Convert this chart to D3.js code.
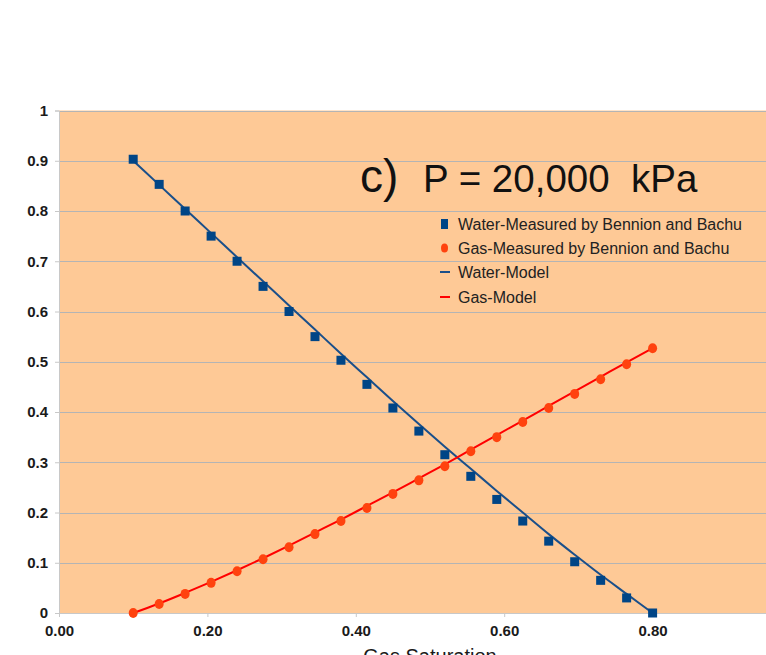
<!DOCTYPE html>
<html>
<head>
<meta charset="utf-8">
<script src="https://cdn.jsdelivr.net/npm/d3@7/dist/d3.min.js"></script>
<style>
  html, body { margin: 0; padding: 0; background: #fff; overflow: hidden; }
  svg { display: block; font-family: "Liberation Sans", Arial, sans-serif; }
</style>
</head>
<body>
<svg id="chart" width="766" height="655"></svg>
<script>
// Gas saturation sample points
const saturation = [0.100, 0.135, 0.170, 0.205, 0.240, 0.275, 0.310, 0.345, 0.380, 0.415,
                    0.450, 0.485, 0.520, 0.555, 0.590, 0.625, 0.660, 0.695, 0.730, 0.765, 0.800];

// Measured relative permeability (Bennion and Bachu)
const waterMeasured = [0.903, 0.853, 0.800, 0.750, 0.700, 0.650, 0.600, 0.550, 0.503, 0.455,
                       0.408, 0.362, 0.315, 0.272, 0.226, 0.183, 0.143, 0.102, 0.065, 0.030, 0.000];
const gasMeasured   = [0.000, 0.018, 0.038, 0.060, 0.083, 0.107, 0.131, 0.157, 0.183, 0.209,
                       0.237, 0.264, 0.292, 0.322, 0.350, 0.380, 0.408, 0.436, 0.465, 0.495, 0.527];

// Model curves
const waterModel = [0.900, 0.852, 0.804, 0.756, 0.708, 0.660, 0.612, 0.564, 0.516, 0.469,
                    0.422, 0.376, 0.331, 0.287, 0.243, 0.200, 0.157, 0.116, 0.076, 0.038, 0.000];
const gasModel   = [0.000, 0.019, 0.040, 0.062, 0.085, 0.109, 0.134, 0.160, 0.186, 0.213,
                    0.240, 0.268, 0.296, 0.325, 0.354, 0.383, 0.412, 0.441, 0.470, 0.499, 0.527];

const xTicks = [0, 0.2, 0.4, 0.6, 0.8];
const yTicks = [0, 0.1, 0.2, 0.3, 0.4, 0.5, 0.6, 0.7, 0.8, 0.9, 1];

const titleLabel = "c)";
const titleText = "P = 20,000  kPa";
const xAxisTitle = "Gas Saturation";
const legendLabels = ["Water-Measured by Bennion and Bachu", "Gas-Measured by Bennion and Bachu",
                      "Water-Model", "Gas-Model"];

const colors = {
  bg: "#FEC996",
  grid: "#B4B4B4",
  axis: "#C8C8C8",
  waterPt: "#004586",
  waterLine: "#1A4F8A",
  gasPt: "#FF420E",
  gasLine: "#FF0000",
  text: "#1a1a1a"
};

const svg = d3.select("#chart");
const plot = { left: 59, right: 801, top: 110.5, bottom: 613 };

const x = d3.scaleLinear().domain([0, 1]).range([plot.left, plot.right]);
const y = d3.scaleLinear().domain([0, 1]).range([plot.bottom, plot.top]);

// plot background
svg.append("rect")
  .attr("x", plot.left).attr("y", plot.top)
  .attr("width", plot.right - plot.left).attr("height", plot.bottom - plot.top)
  .attr("fill", colors.bg);

// horizontal grid
svg.append("g").selectAll("line").data(yTicks.filter(d => d > 0)).join("line")
  .attr("x1", plot.left).attr("x2", plot.right)
  .attr("y1", d => Math.round(y(d)) + 0.5).attr("y2", d => Math.round(y(d)) + 0.5)
  .attr("stroke", colors.grid).attr("stroke-width", 1);

// y axis
const yAxis = svg.append("g")
  .attr("transform", `translate(${plot.left},0)`)
  .call(d3.axisLeft(y).tickValues(yTicks).tickSize(4).tickPadding(7)
        .tickFormat(d => d === 0 ? "0" : d === 1 ? "1" : d3.format(".1f")(d)));
yAxis.select(".domain").attr("stroke", colors.axis);
yAxis.selectAll(".tick line").attr("stroke", colors.axis);
yAxis.selectAll(".tick text")
  .attr("fill", colors.text).attr("font-size", 15).attr("font-weight", "bold")
  .attr("font-family", "Liberation Sans, Arial, sans-serif");

// x axis
const xAxis = svg.append("g")
  .attr("transform", `translate(0,${plot.bottom})`)
  .call(d3.axisBottom(x).tickValues(xTicks).tickSize(4).tickPadding(8)
        .tickFormat(d3.format(".2f")));
xAxis.select(".domain").attr("stroke", colors.axis);
xAxis.selectAll(".tick line").attr("stroke", colors.axis);
xAxis.selectAll(".tick text")
  .attr("fill", colors.text).attr("font-size", 15).attr("font-weight", "bold")
  .attr("font-family", "Liberation Sans, Arial, sans-serif");

// x axis title
svg.append("text")
  .attr("x", (plot.left + plot.right) / 2).attr("y", 663)
  .attr("text-anchor", "middle").attr("font-size", 20)
  .attr("fill", colors.text).text(xAxisTitle);

const pts = saturation.map((s, i) => ({ s, w: waterMeasured[i], g: gasMeasured[i], wm: waterModel[i], gm: gasModel[i] }));

// model lines
const lineW = d3.line().x(d => x(d.s)).y(d => y(d.wm)).curve(d3.curveMonotoneX);
const lineG = d3.line().x(d => x(d.s)).y(d => y(d.gm)).curve(d3.curveMonotoneX);
svg.append("path").datum(pts).attr("d", lineW)
  .attr("fill", "none").attr("stroke", colors.waterLine).attr("stroke-width", 2);
svg.append("path").datum(pts).attr("d", lineG)
  .attr("fill", "none").attr("stroke", colors.gasLine).attr("stroke-width", 2);

// measured points
svg.append("g").selectAll("rect").data(pts).join("rect")
  .attr("x", d => x(d.s) - 4.5).attr("y", d => y(d.w) - 4.5)
  .attr("width", 9).attr("height", 9)
  .attr("fill", colors.waterPt);
svg.append("g").selectAll("ellipse").data(pts).join("ellipse")
  .attr("cx", d => x(d.s)).attr("cy", d => y(d.g))
  .attr("rx", 4.5).attr("ry", 5)
  .attr("fill", colors.gasPt);

// title
const title = svg.append("text").attr("y", 192).attr("fill", "#111");
title.append("tspan").attr("x", 360).attr("font-size", 46).text(titleLabel);
title.append("tspan").attr("x", 423).attr("font-size", 38.5)
  .attr("xml:space", "preserve").style("white-space", "pre").text(titleText);

// legend
const legend = svg.append("g").attr("transform", "translate(445,0)");
const rowY = [224, 248, 272, 297];
legendLabels.forEach((label, i) => {
  const cy = rowY[i];
  if (i === 0) {
    legend.append("rect").attr("x", -4).attr("y", cy - 5).attr("width", 7).attr("height", 10)
      .attr("fill", colors.waterPt);
  } else if (i === 1) {
    legend.append("ellipse").attr("cx", -0.5).attr("cy", cy).attr("rx", 3.5).attr("ry", 4.5)
      .attr("fill", colors.gasPt);
  } else {
    legend.append("line").attr("x1", -5).attr("x2", 5).attr("y1", cy).attr("y2", cy)
      .attr("stroke", i === 2 ? colors.waterLine : colors.gasLine).attr("stroke-width", 2);
  }
  legend.append("text").attr("x", 13).attr("y", cy + 5.5)
    .attr("font-size", 16).attr("fill", "#222").text(label);
});
</script>
</body>
</html>
